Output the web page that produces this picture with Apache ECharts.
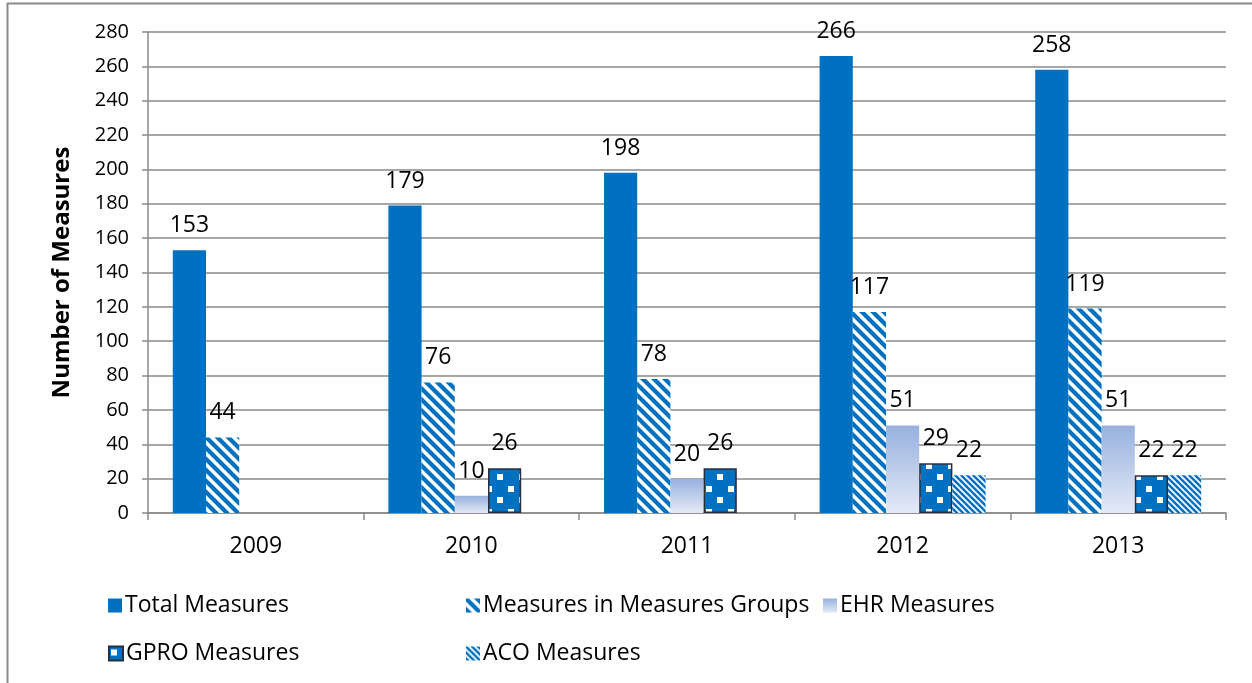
<!DOCTYPE html>
<html>
<head>
<meta charset="utf-8">
<script src="https://cdn.jsdelivr.net/npm/echarts@6/dist/echarts.min.js"></script>
<style>
  html, body { margin: 0; padding: 0; background: #ffffff; }
  #chart { width: 1252px; height: 683px; }
</style>
</head>
<body>
<div id="chart"></div>
<script>
// Measures counts per reporting year
const years = ['2009', '2010', '2011', '2012', '2013'];
const totalMeasures = [153, 179, 198, 266, 258];
const groupMeasures = [44, 76, 78, 117, 119];
const ehrMeasures = [null, 10, 20, 51, 51];
const gproMeasures = [null, 26, 26, 29, 22];
const acoMeasures = [null, null, null, 22, 22];
const yTicks = { min: 0, max: 280, step: 20 };

const BLUE = '#0070C0';
const FONT = '"Open Sans", "Liberation Sans", sans-serif';

// Diagonal "\" stripe fill
function stripePattern(period, lineWidth) {
  const c = document.createElement('canvas');
  c.width = period; c.height = period;
  const g = c.getContext('2d');
  g.fillStyle = '#ffffff';
  g.fillRect(0, 0, period, period);
  g.strokeStyle = BLUE;
  g.lineWidth = lineWidth;
  for (let k = -1; k <= 1; k++) {
    g.beginPath();
    g.moveTo(-period + k * period, -period);
    g.lineTo(2 * period + k * period, 2 * period);
    g.stroke();
  }
  return { image: c, repeat: 'repeat' };
}

// Blue fill with staggered white square dots
function dotPattern() {
  const w = 22, h = 23;
  const c = document.createElement('canvas');
  c.width = w; c.height = h;
  const g = c.getContext('2d');
  g.fillStyle = BLUE;
  g.fillRect(0, 0, w, h);
  g.fillStyle = '#ffffff';
  g.fillRect(2, 3, 6, 6);
  g.fillRect(13, 14, 6, 6);
  return { image: c, repeat: 'repeat' };
}

const ehrGradient = new echarts.graphic.LinearGradient(0, 0, 0, 1, [
  { offset: 0, color: '#97B1DE' },
  { offset: 1, color: '#E4EAF6' }
]);

const labelStyle = {
  show: true,
  position: 'top',
  distance: 13,
  color: '#000000',
  fontSize: 23,
  fontFamily: FONT
};

const chart = echarts.init(document.getElementById('chart'), null, { renderer: 'canvas' });

function legendAt(name, left, top) {
  return {
    data: [name],
    left: left,
    top: top,
    itemWidth: 14,
    itemHeight: 14,
    itemGap: 6,
    icon: 'rect',
    textStyle: { fontSize: 23, color: '#000000', fontFamily: FONT, padding: [0, 0, 0, -2] },
    selectedMode: false
  };
}

chart.setOption({
  animation: false,
  backgroundColor: '#ffffff',
  graphic: [{
    type: 'rect',
    shape: { x: 7.5, y: 3.5, width: 1300, height: 720 },
    style: { fill: 'none', stroke: '#8a8a8a', lineWidth: 2 },
    silent: true,
    z: -10
  }],
  legend: [
    legendAt('Total Measures', 103, 589),
    legendAt('Measures in Measures Groups', 461, 589),
    legendAt('EHR Measures', 818, 589),
    legendAt('GPRO Measures', 103, 637),
    legendAt('ACO Measures', 461, 637)
  ],
  grid: { left: 148, right: 26, top: 32, bottom: 170, containLabel: false },
  xAxis: {
    type: 'category',
    data: years,
    axisLine: { show: true, lineStyle: { color: '#8a8a8a', width: 1.5 } },
    axisTick: { show: true, length: 7, interval: 0, lineStyle: { color: '#8a8a8a', width: 1.5 } },
    axisLabel: { fontSize: 23, color: '#000000', fontFamily: FONT, margin: 22 }
  },
  yAxis: {
    type: 'value',
    min: yTicks.min,
    max: yTicks.max,
    interval: yTicks.step,
    name: 'Number of Measures',
    nameLocation: 'middle',
    nameRotate: 90,
    nameGap: 74,
    nameTextStyle: { fontSize: 24, fontWeight: 'bold', color: '#000000', fontFamily: FONT },
    axisLine: { show: true, lineStyle: { color: '#8a8a8a', width: 1.5 } },
    axisTick: { show: true, length: 6, lineStyle: { color: '#8a8a8a', width: 1.5 } },
    axisLabel: { fontSize: 20, color: '#000000', fontFamily: FONT, margin: 19 },
    splitLine: { show: true, lineStyle: { color: '#8a8a8a', width: 1.5 } }
  },
  series: [
    {
      name: 'Total Measures', type: 'bar', data: totalMeasures,
      barGap: '0%', barCategoryGap: '23%',
      itemStyle: { color: BLUE },
      label: labelStyle
    },
    {
      name: 'Measures in Measures Groups', type: 'bar', data: groupMeasures,
      itemStyle: { color: stripePattern(11, 4.2) },
      label: labelStyle
    },
    {
      name: 'EHR Measures', type: 'bar', data: ehrMeasures,
      itemStyle: { color: ehrGradient },
      label: labelStyle
    },
    {
      name: 'GPRO Measures', type: 'bar', data: gproMeasures,
      itemStyle: { color: dotPattern(), borderColor: '#26303d', borderWidth: 1.5 },
      label: labelStyle
    },
    {
      name: 'ACO Measures', type: 'bar', data: acoMeasures,
      itemStyle: { color: stripePattern(6, 2.5) },
      label: labelStyle
    }
  ]
});
</script>
</body>
</html>
